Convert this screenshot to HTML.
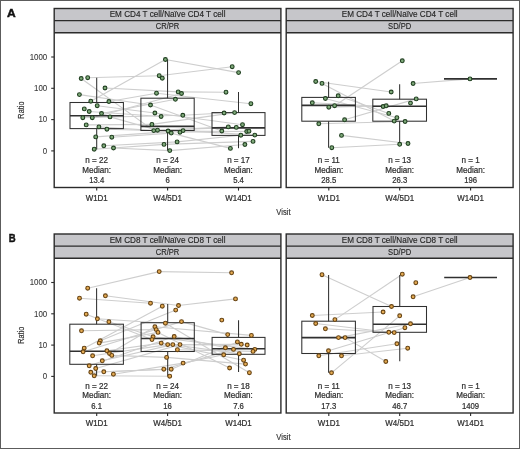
<!DOCTYPE html><html><head><meta charset="utf-8"><style>
html,body{margin:0;padding:0;background:#fff;width:520px;height:449px;overflow:hidden}
svg{display:block;will-change:transform}
text{font-family:"Liberation Sans",sans-serif;fill:#333}
.st{font-size:8.6px;fill:#262626;stroke:#262626;stroke-width:0.15px}
.an{font-size:8.3px;fill:#2e2e2e;stroke:#2e2e2e;stroke-width:0.22px}
.yt{font-size:8.3px;fill:#3a3a3a;stroke:#3a3a3a;stroke-width:0.1px}
.ax{font-size:9.8px;fill:#333;stroke:#333;stroke-width:0.18px}
.lt{font-size:11.6px;font-weight:bold;fill:#111;stroke:#111;stroke-width:0.45px}
</style></head><body>
<svg width="520" height="449" viewBox="0 0 520 449">
<rect x="0" y="0" width="520" height="449" fill="#fff"/>
<text x="7.1" y="16.8" class="lt" textLength="8.7" lengthAdjust="spacingAndGlyphs">A</text>
<g stroke="#2b2b2b" stroke-width="1.1">
<line x1="51.2" y1="57.0" x2="54" y2="57.0"/>
<line x1="51.2" y1="88.3" x2="54" y2="88.3"/>
<line x1="51.2" y1="119.6" x2="54" y2="119.6"/>
<line x1="51.2" y1="150.9" x2="54" y2="150.9"/>
</g>
<text x="47.2" y="59.8" text-anchor="end" class="yt" textLength="17.57" lengthAdjust="spacingAndGlyphs">1000</text>
<text x="47.2" y="91.1" text-anchor="end" class="yt" textLength="13.18" lengthAdjust="spacingAndGlyphs">100</text>
<text x="47.2" y="122.39999999999999" text-anchor="end" class="yt" textLength="8.79" lengthAdjust="spacingAndGlyphs">10</text>
<text x="47.2" y="153.70000000000002" text-anchor="end" class="yt" textLength="4.39" lengthAdjust="spacingAndGlyphs">0</text>
<text transform="translate(24.2 110.1) rotate(-90) scale(0.75 1)" text-anchor="middle" class="ax">Ratio</text>
<text transform="translate(283.5 214.6) scale(0.78 1)" text-anchor="middle" class="ax">Visit</text>
<rect x="54.2" y="8.5" width="226.7" height="24.2" fill="#c6c6ca" stroke="none"/>
<g stroke="#cecece" stroke-width="1.1">
<line x1="81.2" y1="78.5" x2="153.75" y2="130.6"/>
<line x1="87.7" y1="77.7" x2="159.2" y2="75.7"/>
<line x1="105" y1="88" x2="178.2" y2="91.9"/>
<line x1="79.4" y1="94.6" x2="150.5" y2="105"/>
<line x1="90.8" y1="101.2" x2="165.4" y2="59.5"/>
<line x1="108.9" y1="101.5" x2="156.5" y2="93.2"/>
<line x1="97.2" y1="105.7" x2="154.9" y2="113"/>
<line x1="89.2" y1="111.5" x2="161.1" y2="116.5"/>
<line x1="101.5" y1="113.5" x2="175.4" y2="99.3"/>
<line x1="82.8" y1="117.7" x2="182.8" y2="115.3"/>
<line x1="92.3" y1="117.7" x2="181.5" y2="93.5"/>
<line x1="110" y1="116.9" x2="157.5" y2="130.2"/>
<line x1="86.2" y1="124.9" x2="151.9" y2="124.4"/>
<line x1="98.9" y1="126.9" x2="180" y2="132.25"/>
<line x1="106.9" y1="129.2" x2="168.1" y2="131"/>
<line x1="95.7" y1="136.9" x2="183.1" y2="130.6"/>
<line x1="111.8" y1="137.2" x2="171.25" y2="133.1"/>
<line x1="103.8" y1="145.8" x2="177.1" y2="141.9"/>
<line x1="113.5" y1="148" x2="169.75" y2="150.6"/>
<line x1="94.2" y1="149.2" x2="164" y2="144.4"/>
<line x1="165.4" y1="59.5" x2="238.6" y2="72.6"/>
<line x1="159.2" y1="75.7" x2="232.2" y2="66.7"/>
<line x1="156.5" y1="93.2" x2="250.9" y2="103.7"/>
<line x1="178.2" y1="91.9" x2="226" y2="92.2"/>
<line x1="182.8" y1="115.3" x2="224.1" y2="113"/>
<line x1="151.9" y1="124.4" x2="234.6" y2="112.6"/>
<line x1="153.75" y1="130.6" x2="228.3" y2="126.9"/>
<line x1="157.5" y1="130.2" x2="236.3" y2="127.4"/>
<line x1="154.9" y1="113" x2="242.5" y2="124.7"/>
<line x1="150.5" y1="105" x2="221.8" y2="131"/>
<line x1="168.1" y1="131" x2="246.7" y2="131.5"/>
<line x1="180" y1="132.25" x2="249" y2="131.2"/>
<line x1="177.1" y1="141.9" x2="240.8" y2="135.2"/>
<line x1="183.1" y1="130.6" x2="254.8" y2="135.1"/>
<line x1="164" y1="144.4" x2="253" y2="141.4"/>
<line x1="169.75" y1="150.6" x2="244.9" y2="144.5"/>
<line x1="171.25" y1="133.1" x2="230.4" y2="148.4"/>
</g>
<g stroke="#303030" stroke-width="1.05" fill="none">
<line x1="96.7" y1="77.7" x2="96.7" y2="102.5"/>
<line x1="96.7" y1="128.6" x2="96.7" y2="149.2"/>
<rect x="70" y="102.5" width="53.40" height="26.10" fill="none"/>
<line x1="70" y1="115.8" x2="123.4" y2="115.8" stroke-width="1.6"/>
<line x1="167.55" y1="59.5" x2="167.55" y2="98.2"/>
<line x1="167.55" y1="130.5" x2="167.55" y2="150.6"/>
<rect x="140.9" y="98.2" width="53.30" height="32.30" fill="none"/>
<line x1="140.9" y1="126.4" x2="194.2" y2="126.4" stroke-width="1.6"/>
<line x1="238.5" y1="92.0" x2="238.5" y2="112.6"/>
<line x1="238.5" y1="135.4" x2="238.5" y2="148.2"/>
<rect x="212" y="112.6" width="53.00" height="22.80" fill="none"/>
<line x1="212" y1="127.9" x2="265" y2="127.9" stroke-width="1.6"/>
</g>
<g stroke-width="1.1">
<circle cx="81.2" cy="78.5" r="1.9" fill="#80ab7b" stroke="#203f20"/>
<circle cx="87.7" cy="77.7" r="1.9" fill="#80ab7b" stroke="#203f20"/>
<circle cx="105" cy="88" r="1.9" fill="#80ab7b" stroke="#203f20"/>
<circle cx="79.4" cy="94.6" r="1.9" fill="#80ab7b" stroke="#203f20"/>
<circle cx="90.8" cy="101.2" r="1.9" fill="#80ab7b" stroke="#203f20"/>
<circle cx="108.9" cy="101.5" r="1.9" fill="#80ab7b" stroke="#203f20"/>
<circle cx="97.2" cy="105.7" r="1.9" fill="#80ab7b" stroke="#203f20"/>
<circle cx="84.3" cy="108.9" r="1.9" fill="#80ab7b" stroke="#203f20"/>
<circle cx="89.2" cy="111.5" r="1.9" fill="#80ab7b" stroke="#203f20"/>
<circle cx="101.5" cy="113.5" r="1.9" fill="#80ab7b" stroke="#203f20"/>
<circle cx="82.8" cy="117.7" r="1.9" fill="#80ab7b" stroke="#203f20"/>
<circle cx="92.3" cy="117.7" r="1.9" fill="#80ab7b" stroke="#203f20"/>
<circle cx="110" cy="116.9" r="1.9" fill="#80ab7b" stroke="#203f20"/>
<circle cx="86.2" cy="124.9" r="1.9" fill="#80ab7b" stroke="#203f20"/>
<circle cx="98.9" cy="126.9" r="1.9" fill="#80ab7b" stroke="#203f20"/>
<circle cx="106.9" cy="129.2" r="1.9" fill="#80ab7b" stroke="#203f20"/>
<circle cx="95.7" cy="136.9" r="1.9" fill="#80ab7b" stroke="#203f20"/>
<circle cx="111.8" cy="137.2" r="1.9" fill="#80ab7b" stroke="#203f20"/>
<circle cx="103.8" cy="145.8" r="1.9" fill="#80ab7b" stroke="#203f20"/>
<circle cx="113.5" cy="148" r="1.9" fill="#80ab7b" stroke="#203f20"/>
<circle cx="94.2" cy="149.2" r="1.9" fill="#80ab7b" stroke="#203f20"/>
<circle cx="165.4" cy="59.5" r="1.9" fill="#80ab7b" stroke="#203f20"/>
<circle cx="159.2" cy="75.7" r="1.9" fill="#80ab7b" stroke="#203f20"/>
<circle cx="162.3" cy="78.2" r="1.9" fill="#80ab7b" stroke="#203f20"/>
<circle cx="156.5" cy="93.2" r="1.9" fill="#80ab7b" stroke="#203f20"/>
<circle cx="178.2" cy="91.9" r="1.9" fill="#80ab7b" stroke="#203f20"/>
<circle cx="181.5" cy="93.5" r="1.9" fill="#80ab7b" stroke="#203f20"/>
<circle cx="175.4" cy="99.3" r="1.9" fill="#80ab7b" stroke="#203f20"/>
<circle cx="150.5" cy="105" r="1.9" fill="#80ab7b" stroke="#203f20"/>
<circle cx="154.9" cy="113" r="1.9" fill="#80ab7b" stroke="#203f20"/>
<circle cx="161.1" cy="116.5" r="1.9" fill="#80ab7b" stroke="#203f20"/>
<circle cx="182.8" cy="115.3" r="1.9" fill="#80ab7b" stroke="#203f20"/>
<circle cx="151.9" cy="124.4" r="1.9" fill="#80ab7b" stroke="#203f20"/>
<circle cx="153.75" cy="130.6" r="1.9" fill="#80ab7b" stroke="#203f20"/>
<circle cx="157.5" cy="130.2" r="1.9" fill="#80ab7b" stroke="#203f20"/>
<circle cx="168.1" cy="131" r="1.9" fill="#80ab7b" stroke="#203f20"/>
<circle cx="171.25" cy="133.1" r="1.9" fill="#80ab7b" stroke="#203f20"/>
<circle cx="180" cy="132.25" r="1.9" fill="#80ab7b" stroke="#203f20"/>
<circle cx="183.1" cy="130.6" r="1.9" fill="#80ab7b" stroke="#203f20"/>
<circle cx="164" cy="144.4" r="1.9" fill="#80ab7b" stroke="#203f20"/>
<circle cx="177.1" cy="141.9" r="1.9" fill="#80ab7b" stroke="#203f20"/>
<circle cx="169.75" cy="150.6" r="1.9" fill="#80ab7b" stroke="#203f20"/>
<circle cx="232.2" cy="66.7" r="1.9" fill="#80ab7b" stroke="#203f20"/>
<circle cx="238.6" cy="72.6" r="1.9" fill="#80ab7b" stroke="#203f20"/>
<circle cx="226" cy="92.2" r="1.9" fill="#80ab7b" stroke="#203f20"/>
<circle cx="250.9" cy="103.7" r="1.9" fill="#80ab7b" stroke="#203f20"/>
<circle cx="224.1" cy="113" r="1.9" fill="#80ab7b" stroke="#203f20"/>
<circle cx="234.6" cy="112.6" r="1.9" fill="#80ab7b" stroke="#203f20"/>
<circle cx="228.3" cy="126.9" r="1.9" fill="#80ab7b" stroke="#203f20"/>
<circle cx="236.3" cy="127.4" r="1.9" fill="#80ab7b" stroke="#203f20"/>
<circle cx="242.5" cy="124.7" r="1.9" fill="#80ab7b" stroke="#203f20"/>
<circle cx="221.8" cy="131" r="1.9" fill="#80ab7b" stroke="#203f20"/>
<circle cx="246.7" cy="131.5" r="1.9" fill="#80ab7b" stroke="#203f20"/>
<circle cx="249" cy="131.2" r="1.9" fill="#80ab7b" stroke="#203f20"/>
<circle cx="240.8" cy="135.2" r="1.9" fill="#80ab7b" stroke="#203f20"/>
<circle cx="254.8" cy="135.1" r="1.9" fill="#80ab7b" stroke="#203f20"/>
<circle cx="253" cy="141.4" r="1.9" fill="#80ab7b" stroke="#203f20"/>
<circle cx="244.9" cy="144.5" r="1.9" fill="#80ab7b" stroke="#203f20"/>
<circle cx="230.4" cy="148.4" r="1.9" fill="#80ab7b" stroke="#203f20"/>
</g>
<g stroke="#2b2b2b" stroke-width="1.4" fill="none">
<rect x="54.2" y="8.5" width="226.7" height="179.0"/>
<line x1="54.2" y1="20.6" x2="280.9" y2="20.6"/>
<line x1="54.2" y1="32.7" x2="280.9" y2="32.7"/>
<line x1="96.7" y1="187.5" x2="96.7" y2="190.6" stroke-width="1.1"/>
<line x1="167.6" y1="187.5" x2="167.6" y2="190.6" stroke-width="1.1"/>
<line x1="238.5" y1="187.5" x2="238.5" y2="190.6" stroke-width="1.1"/>
</g>
<text x="167.54999999999998" y="17.4" text-anchor="middle" class="st" textLength="115.80" lengthAdjust="spacingAndGlyphs">EM CD4 T cell/Naïve CD4 T cell</text>
<text x="167.54999999999998" y="29.3" text-anchor="middle" class="st" textLength="23.55" lengthAdjust="spacingAndGlyphs">CR/PR</text>
<text x="96.7" y="163.1" text-anchor="middle" class="an" textLength="22.72" lengthAdjust="spacingAndGlyphs">n = 22</text>
<text x="96.7" y="172.8" text-anchor="middle" class="an" textLength="28.79" lengthAdjust="spacingAndGlyphs">Median:</text>
<text x="96.7" y="183.1" text-anchor="middle" class="an" textLength="15.02" lengthAdjust="spacingAndGlyphs">13.4</text>
<text x="167.6" y="163.1" text-anchor="middle" class="an" textLength="22.72" lengthAdjust="spacingAndGlyphs">n = 24</text>
<text x="167.6" y="172.8" text-anchor="middle" class="an" textLength="28.79" lengthAdjust="spacingAndGlyphs">Median:</text>
<text x="167.6" y="183.1" text-anchor="middle" class="an" textLength="4.29" lengthAdjust="spacingAndGlyphs">6</text>
<text x="238.5" y="163.1" text-anchor="middle" class="an" textLength="22.72" lengthAdjust="spacingAndGlyphs">n = 17</text>
<text x="238.5" y="172.8" text-anchor="middle" class="an" textLength="28.79" lengthAdjust="spacingAndGlyphs">Median:</text>
<text x="238.5" y="183.1" text-anchor="middle" class="an" textLength="10.73" lengthAdjust="spacingAndGlyphs">5.4</text>
<text x="96.7" y="200.9" text-anchor="middle" class="an" textLength="22.14" lengthAdjust="spacingAndGlyphs">W1D1</text>
<text x="167.6" y="200.9" text-anchor="middle" class="an" textLength="28.78" lengthAdjust="spacingAndGlyphs">W4/5D1</text>
<text x="238.5" y="200.9" text-anchor="middle" class="an" textLength="26.57" lengthAdjust="spacingAndGlyphs">W14D1</text>
<rect x="286.2" y="8.5" width="226.90000000000003" height="24.2" fill="#c6c6ca" stroke="none"/>
<g stroke="#cecece" stroke-width="1.1">
<line x1="315.7" y1="81.5" x2="391.2" y2="92"/>
<line x1="322" y1="83.4" x2="394.2" y2="121.1"/>
<line x1="325.4" y1="98.5" x2="396.9" y2="117.7"/>
<line x1="338.2" y1="95.8" x2="388.8" y2="113.4"/>
<line x1="312.3" y1="102.8" x2="383.1" y2="106.5"/>
<line x1="328.8" y1="107.2" x2="386.2" y2="105.8"/>
<line x1="334.6" y1="105.7" x2="402.3" y2="60.8"/>
<line x1="344.6" y1="119.8" x2="416.2" y2="98.9"/>
<line x1="318.8" y1="123.8" x2="405.1" y2="121.5"/>
<line x1="341.5" y1="135.4" x2="408" y2="143.5"/>
<line x1="331.8" y1="147.7" x2="399.7" y2="144.3"/>
<line x1="413.1" y1="83.5" x2="470" y2="78.9"/>
</g>
<g stroke="#303030" stroke-width="1.05" fill="none">
<line x1="328.6" y1="81.8" x2="328.6" y2="97.4"/>
<line x1="328.6" y1="121.2" x2="328.6" y2="147.7"/>
<rect x="301.8" y="97.4" width="53.60" height="23.80" fill="none"/>
<line x1="301.8" y1="105.4" x2="355.4" y2="105.4" stroke-width="1.6"/>
<line x1="399.65" y1="84.2" x2="399.65" y2="99.2"/>
<line x1="399.65" y1="121.2" x2="399.65" y2="144.3"/>
<rect x="372.8" y="99.2" width="53.70" height="22.00" fill="none"/>
<line x1="372.8" y1="106.2" x2="426.5" y2="106.2" stroke-width="1.6"/>
<line x1="444" y1="78.9" x2="497" y2="78.9" stroke-width="1.6"/>
</g>
<g stroke-width="1.1">
<circle cx="315.7" cy="81.5" r="1.9" fill="#80ab7b" stroke="#203f20"/>
<circle cx="322" cy="83.4" r="1.9" fill="#80ab7b" stroke="#203f20"/>
<circle cx="325.4" cy="98.5" r="1.9" fill="#80ab7b" stroke="#203f20"/>
<circle cx="338.2" cy="95.8" r="1.9" fill="#80ab7b" stroke="#203f20"/>
<circle cx="312.3" cy="102.8" r="1.9" fill="#80ab7b" stroke="#203f20"/>
<circle cx="328.8" cy="107.2" r="1.9" fill="#80ab7b" stroke="#203f20"/>
<circle cx="334.6" cy="105.7" r="1.9" fill="#80ab7b" stroke="#203f20"/>
<circle cx="344.6" cy="119.8" r="1.9" fill="#80ab7b" stroke="#203f20"/>
<circle cx="318.8" cy="123.8" r="1.9" fill="#80ab7b" stroke="#203f20"/>
<circle cx="341.5" cy="135.4" r="1.9" fill="#80ab7b" stroke="#203f20"/>
<circle cx="331.8" cy="147.7" r="1.9" fill="#80ab7b" stroke="#203f20"/>
<circle cx="402.3" cy="60.8" r="1.9" fill="#80ab7b" stroke="#203f20"/>
<circle cx="413.1" cy="83.5" r="1.9" fill="#80ab7b" stroke="#203f20"/>
<circle cx="391.2" cy="92" r="1.9" fill="#80ab7b" stroke="#203f20"/>
<circle cx="416.2" cy="98.9" r="1.9" fill="#80ab7b" stroke="#203f20"/>
<circle cx="410.5" cy="103.1" r="1.9" fill="#80ab7b" stroke="#203f20"/>
<circle cx="383.1" cy="106.5" r="1.9" fill="#80ab7b" stroke="#203f20"/>
<circle cx="386.2" cy="105.8" r="1.9" fill="#80ab7b" stroke="#203f20"/>
<circle cx="388.8" cy="113.4" r="1.9" fill="#80ab7b" stroke="#203f20"/>
<circle cx="396.9" cy="117.7" r="1.9" fill="#80ab7b" stroke="#203f20"/>
<circle cx="394.2" cy="121.1" r="1.9" fill="#80ab7b" stroke="#203f20"/>
<circle cx="405.1" cy="121.5" r="1.9" fill="#80ab7b" stroke="#203f20"/>
<circle cx="399.7" cy="144.3" r="1.9" fill="#80ab7b" stroke="#203f20"/>
<circle cx="408" cy="143.5" r="1.9" fill="#80ab7b" stroke="#203f20"/>
<circle cx="470" cy="78.9" r="1.9" fill="#80ab7b" stroke="#203f20"/>
</g>
<g stroke="#2b2b2b" stroke-width="1.4" fill="none">
<rect x="286.2" y="8.5" width="226.90000000000003" height="179.0"/>
<line x1="286.2" y1="20.6" x2="513.1" y2="20.6"/>
<line x1="286.2" y1="32.7" x2="513.1" y2="32.7"/>
<line x1="328.8" y1="187.5" x2="328.8" y2="190.6" stroke-width="1.1"/>
<line x1="399.7" y1="187.5" x2="399.7" y2="190.6" stroke-width="1.1"/>
<line x1="470.6" y1="187.5" x2="470.6" y2="190.6" stroke-width="1.1"/>
</g>
<text x="399.65" y="17.4" text-anchor="middle" class="st" textLength="115.80" lengthAdjust="spacingAndGlyphs">EM CD4 T cell/Naïve CD4 T cell</text>
<text x="399.65" y="29.3" text-anchor="middle" class="st" textLength="23.13" lengthAdjust="spacingAndGlyphs">SD/PD</text>
<text x="328.8" y="163.1" text-anchor="middle" class="an" textLength="22.12" lengthAdjust="spacingAndGlyphs">n = 11</text>
<text x="328.8" y="172.8" text-anchor="middle" class="an" textLength="28.79" lengthAdjust="spacingAndGlyphs">Median:</text>
<text x="328.8" y="183.1" text-anchor="middle" class="an" textLength="15.02" lengthAdjust="spacingAndGlyphs">28.5</text>
<text x="399.7" y="163.1" text-anchor="middle" class="an" textLength="22.72" lengthAdjust="spacingAndGlyphs">n = 13</text>
<text x="399.7" y="172.8" text-anchor="middle" class="an" textLength="28.79" lengthAdjust="spacingAndGlyphs">Median:</text>
<text x="399.7" y="183.1" text-anchor="middle" class="an" textLength="15.02" lengthAdjust="spacingAndGlyphs">26.3</text>
<text x="470.6" y="163.1" text-anchor="middle" class="an" textLength="18.22" lengthAdjust="spacingAndGlyphs">n = 1</text>
<text x="470.6" y="172.8" text-anchor="middle" class="an" textLength="28.79" lengthAdjust="spacingAndGlyphs">Median:</text>
<text x="470.6" y="183.1" text-anchor="middle" class="an" textLength="12.88" lengthAdjust="spacingAndGlyphs">196</text>
<text x="328.8" y="200.9" text-anchor="middle" class="an" textLength="22.14" lengthAdjust="spacingAndGlyphs">W1D1</text>
<text x="399.7" y="200.9" text-anchor="middle" class="an" textLength="28.78" lengthAdjust="spacingAndGlyphs">W4/5D1</text>
<text x="470.6" y="200.9" text-anchor="middle" class="an" textLength="26.57" lengthAdjust="spacingAndGlyphs">W14D1</text>
<text x="8.7" y="242.3" class="lt" textLength="6.9" lengthAdjust="spacingAndGlyphs">B</text>
<g stroke="#2b2b2b" stroke-width="1.1">
<line x1="51.2" y1="282.5" x2="54" y2="282.5"/>
<line x1="51.2" y1="313.8" x2="54" y2="313.8"/>
<line x1="51.2" y1="345.1" x2="54" y2="345.1"/>
<line x1="51.2" y1="376.4" x2="54" y2="376.4"/>
</g>
<text x="47.2" y="285.3" text-anchor="end" class="yt" textLength="17.57" lengthAdjust="spacingAndGlyphs">1000</text>
<text x="47.2" y="316.6" text-anchor="end" class="yt" textLength="13.18" lengthAdjust="spacingAndGlyphs">100</text>
<text x="47.2" y="347.90000000000003" text-anchor="end" class="yt" textLength="8.79" lengthAdjust="spacingAndGlyphs">10</text>
<text x="47.2" y="379.2" text-anchor="end" class="yt" textLength="4.39" lengthAdjust="spacingAndGlyphs">0</text>
<text transform="translate(24.2 335.20000000000005) rotate(-90) scale(0.75 1)" text-anchor="middle" class="ax">Ratio</text>
<text transform="translate(283.5 440.1) scale(0.78 1)" text-anchor="middle" class="ax">Visit</text>
<rect x="54.2" y="234.0" width="226.7" height="24.2" fill="#c6c6ca" stroke="none"/>
<g stroke="#cecece" stroke-width="1.1">
<line x1="87.7" y1="288.2" x2="159.2" y2="271.6"/>
<line x1="79.5" y1="298.2" x2="150.5" y2="303.2"/>
<line x1="105.4" y1="295.8" x2="178.5" y2="305.5"/>
<line x1="86.2" y1="314.2" x2="152" y2="339.6"/>
<line x1="97.4" y1="318.8" x2="165.4" y2="323.2"/>
<line x1="108.9" y1="321.8" x2="153.1" y2="336.8"/>
<line x1="81.5" y1="330.8" x2="156.2" y2="329.6"/>
<line x1="100.3" y1="340.8" x2="175.7" y2="310.1"/>
<line x1="99.2" y1="343.1" x2="158" y2="332.4"/>
<line x1="84.2" y1="348.2" x2="162.3" y2="306.2"/>
<line x1="83.1" y1="351.8" x2="181.5" y2="321.6"/>
<line x1="106.9" y1="350.8" x2="161.2" y2="343.1"/>
<line x1="109.5" y1="353.5" x2="154.9" y2="326.8"/>
<line x1="111.8" y1="355.4" x2="166.6" y2="357.4"/>
<line x1="92.6" y1="355.8" x2="167.7" y2="344.6"/>
<line x1="102.3" y1="360.8" x2="172.8" y2="344.6"/>
<line x1="89.2" y1="365.8" x2="174.2" y2="336.5"/>
<line x1="95.7" y1="368.5" x2="180" y2="344.6"/>
<line x1="90.8" y1="372.3" x2="171.2" y2="369.2"/>
<line x1="103.8" y1="371.8" x2="163.8" y2="369.2"/>
<line x1="94.2" y1="375.8" x2="169.7" y2="376.2"/>
<line x1="113.4" y1="374.2" x2="183.1" y2="363.1"/>
<line x1="159.2" y1="271.6" x2="231.6" y2="272.8"/>
<line x1="178.5" y1="305.5" x2="235.5" y2="298.9"/>
<line x1="181.5" y1="321.6" x2="227.7" y2="334.6"/>
<line x1="165.4" y1="323.2" x2="249.4" y2="372.7"/>
<line x1="183.1" y1="363.1" x2="223.7" y2="354.8"/>
<line x1="174.2" y1="336.5" x2="225.4" y2="347.8"/>
<line x1="158" y1="332.4" x2="229.6" y2="368"/>
<line x1="154.9" y1="326.8" x2="251.4" y2="335.4"/>
<line x1="161.2" y1="343.1" x2="239.3" y2="353.7"/>
<line x1="167.7" y1="344.6" x2="243.6" y2="360.2"/>
<line x1="172.8" y1="344.6" x2="247.2" y2="345"/>
<line x1="177.4" y1="349.7" x2="253" y2="351.4"/>
<line x1="166.6" y1="357.4" x2="245.5" y2="364.1"/>
<line x1="163.8" y1="369.2" x2="233.5" y2="349.4"/>
<line x1="171.2" y1="369.2" x2="237.4" y2="341.9"/>
<line x1="153.1" y1="336.8" x2="254.8" y2="349.4"/>
<line x1="180" y1="344.6" x2="241.3" y2="344.3"/>
</g>
<g stroke="#303030" stroke-width="1.05" fill="none">
<line x1="96.6" y1="288.2" x2="96.6" y2="324.2"/>
<line x1="96.6" y1="364.3" x2="96.6" y2="375.8"/>
<rect x="69.8" y="324.2" width="53.60" height="40.10" fill="none"/>
<line x1="69.8" y1="351.2" x2="123.4" y2="351.2" stroke-width="1.6"/>
<line x1="167.7" y1="303.9" x2="167.7" y2="322.7"/>
<line x1="167.7" y1="351.5" x2="167.7" y2="376.2"/>
<rect x="141.1" y="322.7" width="53.20" height="28.80" fill="none"/>
<line x1="141.1" y1="338.5" x2="194.3" y2="338.5" stroke-width="1.6"/>
<line x1="238.55" y1="320.3" x2="238.55" y2="337.4"/>
<line x1="238.55" y1="354.3" x2="238.55" y2="372.0"/>
<rect x="212.1" y="337.4" width="52.90" height="16.90" fill="none"/>
<line x1="212.1" y1="348.8" x2="265" y2="348.8" stroke-width="1.6"/>
</g>
<g stroke-width="1.1">
<circle cx="87.7" cy="288.2" r="1.9" fill="#e4aa52" stroke="#654212"/>
<circle cx="79.5" cy="298.2" r="1.9" fill="#e4aa52" stroke="#654212"/>
<circle cx="105.4" cy="295.8" r="1.9" fill="#e4aa52" stroke="#654212"/>
<circle cx="86.2" cy="314.2" r="1.9" fill="#e4aa52" stroke="#654212"/>
<circle cx="97.4" cy="318.8" r="1.9" fill="#e4aa52" stroke="#654212"/>
<circle cx="108.9" cy="321.8" r="1.9" fill="#e4aa52" stroke="#654212"/>
<circle cx="81.5" cy="330.8" r="1.9" fill="#e4aa52" stroke="#654212"/>
<circle cx="100.3" cy="340.8" r="1.9" fill="#e4aa52" stroke="#654212"/>
<circle cx="99.2" cy="343.1" r="1.9" fill="#e4aa52" stroke="#654212"/>
<circle cx="84.2" cy="348.2" r="1.9" fill="#e4aa52" stroke="#654212"/>
<circle cx="83.1" cy="351.8" r="1.9" fill="#e4aa52" stroke="#654212"/>
<circle cx="106.9" cy="350.8" r="1.9" fill="#e4aa52" stroke="#654212"/>
<circle cx="109.5" cy="353.5" r="1.9" fill="#e4aa52" stroke="#654212"/>
<circle cx="111.8" cy="355.4" r="1.9" fill="#e4aa52" stroke="#654212"/>
<circle cx="92.6" cy="355.8" r="1.9" fill="#e4aa52" stroke="#654212"/>
<circle cx="102.3" cy="360.8" r="1.9" fill="#e4aa52" stroke="#654212"/>
<circle cx="89.2" cy="365.8" r="1.9" fill="#e4aa52" stroke="#654212"/>
<circle cx="95.7" cy="368.5" r="1.9" fill="#e4aa52" stroke="#654212"/>
<circle cx="90.8" cy="372.3" r="1.9" fill="#e4aa52" stroke="#654212"/>
<circle cx="103.8" cy="371.8" r="1.9" fill="#e4aa52" stroke="#654212"/>
<circle cx="94.2" cy="375.8" r="1.9" fill="#e4aa52" stroke="#654212"/>
<circle cx="113.4" cy="374.2" r="1.9" fill="#e4aa52" stroke="#654212"/>
<circle cx="159.2" cy="271.6" r="1.9" fill="#e4aa52" stroke="#654212"/>
<circle cx="150.5" cy="303.2" r="1.9" fill="#e4aa52" stroke="#654212"/>
<circle cx="162.3" cy="306.2" r="1.9" fill="#e4aa52" stroke="#654212"/>
<circle cx="178.5" cy="305.5" r="1.9" fill="#e4aa52" stroke="#654212"/>
<circle cx="175.7" cy="310.1" r="1.9" fill="#e4aa52" stroke="#654212"/>
<circle cx="165.4" cy="323.2" r="1.9" fill="#e4aa52" stroke="#654212"/>
<circle cx="181.5" cy="321.6" r="1.9" fill="#e4aa52" stroke="#654212"/>
<circle cx="154.9" cy="326.8" r="1.9" fill="#e4aa52" stroke="#654212"/>
<circle cx="156.2" cy="329.6" r="1.9" fill="#e4aa52" stroke="#654212"/>
<circle cx="158" cy="332.4" r="1.9" fill="#e4aa52" stroke="#654212"/>
<circle cx="153.1" cy="336.8" r="1.9" fill="#e4aa52" stroke="#654212"/>
<circle cx="152" cy="339.6" r="1.9" fill="#e4aa52" stroke="#654212"/>
<circle cx="174.2" cy="336.5" r="1.9" fill="#e4aa52" stroke="#654212"/>
<circle cx="161.2" cy="343.1" r="1.9" fill="#e4aa52" stroke="#654212"/>
<circle cx="167.7" cy="344.6" r="1.9" fill="#e4aa52" stroke="#654212"/>
<circle cx="172.8" cy="344.6" r="1.9" fill="#e4aa52" stroke="#654212"/>
<circle cx="180" cy="344.6" r="1.9" fill="#e4aa52" stroke="#654212"/>
<circle cx="177.4" cy="349.7" r="1.9" fill="#e4aa52" stroke="#654212"/>
<circle cx="166.6" cy="357.4" r="1.9" fill="#e4aa52" stroke="#654212"/>
<circle cx="183.1" cy="363.1" r="1.9" fill="#e4aa52" stroke="#654212"/>
<circle cx="163.8" cy="369.2" r="1.9" fill="#e4aa52" stroke="#654212"/>
<circle cx="171.2" cy="369.2" r="1.9" fill="#e4aa52" stroke="#654212"/>
<circle cx="169.7" cy="376.2" r="1.9" fill="#e4aa52" stroke="#654212"/>
<circle cx="231.6" cy="272.8" r="1.9" fill="#e4aa52" stroke="#654212"/>
<circle cx="235.5" cy="298.9" r="1.9" fill="#e4aa52" stroke="#654212"/>
<circle cx="221.8" cy="320.1" r="1.9" fill="#e4aa52" stroke="#654212"/>
<circle cx="227.7" cy="334.6" r="1.9" fill="#e4aa52" stroke="#654212"/>
<circle cx="251.4" cy="335.4" r="1.9" fill="#e4aa52" stroke="#654212"/>
<circle cx="237.4" cy="341.9" r="1.9" fill="#e4aa52" stroke="#654212"/>
<circle cx="241.3" cy="344.3" r="1.9" fill="#e4aa52" stroke="#654212"/>
<circle cx="247.2" cy="345" r="1.9" fill="#e4aa52" stroke="#654212"/>
<circle cx="225.4" cy="347.8" r="1.9" fill="#e4aa52" stroke="#654212"/>
<circle cx="233.5" cy="349.4" r="1.9" fill="#e4aa52" stroke="#654212"/>
<circle cx="254.8" cy="349.4" r="1.9" fill="#e4aa52" stroke="#654212"/>
<circle cx="253" cy="351.4" r="1.9" fill="#e4aa52" stroke="#654212"/>
<circle cx="223.7" cy="354.8" r="1.9" fill="#e4aa52" stroke="#654212"/>
<circle cx="239.3" cy="353.7" r="1.9" fill="#e4aa52" stroke="#654212"/>
<circle cx="243.6" cy="360.2" r="1.9" fill="#e4aa52" stroke="#654212"/>
<circle cx="245.5" cy="364.1" r="1.9" fill="#e4aa52" stroke="#654212"/>
<circle cx="229.6" cy="368" r="1.9" fill="#e4aa52" stroke="#654212"/>
<circle cx="249.4" cy="372.7" r="1.9" fill="#e4aa52" stroke="#654212"/>
</g>
<g stroke="#2b2b2b" stroke-width="1.4" fill="none">
<rect x="54.2" y="234.0" width="226.7" height="179.0"/>
<line x1="54.2" y1="246.1" x2="280.9" y2="246.1"/>
<line x1="54.2" y1="258.2" x2="280.9" y2="258.2"/>
<line x1="96.7" y1="413.0" x2="96.7" y2="416.1" stroke-width="1.1"/>
<line x1="167.6" y1="413.0" x2="167.6" y2="416.1" stroke-width="1.1"/>
<line x1="238.5" y1="413.0" x2="238.5" y2="416.1" stroke-width="1.1"/>
</g>
<text x="167.54999999999998" y="242.9" text-anchor="middle" class="st" textLength="115.80" lengthAdjust="spacingAndGlyphs">EM CD8 T cell/Naïve CD8 T cell</text>
<text x="167.54999999999998" y="254.8" text-anchor="middle" class="st" textLength="23.55" lengthAdjust="spacingAndGlyphs">CR/PR</text>
<text x="96.7" y="388.6" text-anchor="middle" class="an" textLength="22.72" lengthAdjust="spacingAndGlyphs">n = 22</text>
<text x="96.7" y="398.3" text-anchor="middle" class="an" textLength="28.79" lengthAdjust="spacingAndGlyphs">Median:</text>
<text x="96.7" y="408.6" text-anchor="middle" class="an" textLength="10.73" lengthAdjust="spacingAndGlyphs">6.1</text>
<text x="167.6" y="388.6" text-anchor="middle" class="an" textLength="22.72" lengthAdjust="spacingAndGlyphs">n = 24</text>
<text x="167.6" y="398.3" text-anchor="middle" class="an" textLength="28.79" lengthAdjust="spacingAndGlyphs">Median:</text>
<text x="167.6" y="408.6" text-anchor="middle" class="an" textLength="8.58" lengthAdjust="spacingAndGlyphs">16</text>
<text x="238.5" y="388.6" text-anchor="middle" class="an" textLength="22.72" lengthAdjust="spacingAndGlyphs">n = 18</text>
<text x="238.5" y="398.3" text-anchor="middle" class="an" textLength="28.79" lengthAdjust="spacingAndGlyphs">Median:</text>
<text x="238.5" y="408.6" text-anchor="middle" class="an" textLength="10.73" lengthAdjust="spacingAndGlyphs">7.6</text>
<text x="96.7" y="426.4" text-anchor="middle" class="an" textLength="22.14" lengthAdjust="spacingAndGlyphs">W1D1</text>
<text x="167.6" y="426.4" text-anchor="middle" class="an" textLength="28.78" lengthAdjust="spacingAndGlyphs">W4/5D1</text>
<text x="238.5" y="426.4" text-anchor="middle" class="an" textLength="26.57" lengthAdjust="spacingAndGlyphs">W14D1</text>
<rect x="286.2" y="234.0" width="226.90000000000003" height="24.2" fill="#c6c6ca" stroke="none"/>
<g stroke="#cecece" stroke-width="1.1">
<line x1="322" y1="274.7" x2="391.5" y2="306.5"/>
<line x1="312.3" y1="315.5" x2="383.1" y2="312"/>
<line x1="334.9" y1="319.6" x2="402.3" y2="274.2"/>
<line x1="315.7" y1="323.5" x2="388.8" y2="332.3"/>
<line x1="325.4" y1="328.8" x2="394.2" y2="332.6"/>
<line x1="338.5" y1="337.6" x2="410.5" y2="323.8"/>
<line x1="345.1" y1="337.6" x2="385.8" y2="361.5"/>
<line x1="328.5" y1="350.8" x2="404.9" y2="327.7"/>
<line x1="318.8" y1="355.8" x2="396.9" y2="343.8"/>
<line x1="341.5" y1="355.8" x2="407.7" y2="348.2"/>
<line x1="331.5" y1="372.8" x2="399.7" y2="315.8"/>
<line x1="413.1" y1="296.8" x2="470" y2="277.5"/>
</g>
<g stroke="#303030" stroke-width="1.05" fill="none">
<line x1="328.6" y1="275" x2="328.6" y2="321.2"/>
<line x1="328.6" y1="353.5" x2="328.6" y2="372.8"/>
<rect x="301.8" y="321.2" width="53.60" height="32.30" fill="none"/>
<line x1="301.8" y1="337.6" x2="355.4" y2="337.6" stroke-width="1.6"/>
<line x1="399.75" y1="275" x2="399.75" y2="306.5"/>
<line x1="399.75" y1="332.3" x2="399.75" y2="361.2"/>
<rect x="373" y="306.5" width="53.50" height="25.80" fill="none"/>
<line x1="373" y1="324.2" x2="426.5" y2="324.2" stroke-width="1.6"/>
<line x1="444.2" y1="277.5" x2="497" y2="277.5" stroke-width="1.6"/>
</g>
<g stroke-width="1.1">
<circle cx="322" cy="274.7" r="1.9" fill="#e4aa52" stroke="#654212"/>
<circle cx="312.3" cy="315.5" r="1.9" fill="#e4aa52" stroke="#654212"/>
<circle cx="334.9" cy="319.6" r="1.9" fill="#e4aa52" stroke="#654212"/>
<circle cx="315.7" cy="323.5" r="1.9" fill="#e4aa52" stroke="#654212"/>
<circle cx="325.4" cy="328.8" r="1.9" fill="#e4aa52" stroke="#654212"/>
<circle cx="338.5" cy="337.6" r="1.9" fill="#e4aa52" stroke="#654212"/>
<circle cx="345.1" cy="337.6" r="1.9" fill="#e4aa52" stroke="#654212"/>
<circle cx="328.5" cy="350.8" r="1.9" fill="#e4aa52" stroke="#654212"/>
<circle cx="318.8" cy="355.8" r="1.9" fill="#e4aa52" stroke="#654212"/>
<circle cx="341.5" cy="355.8" r="1.9" fill="#e4aa52" stroke="#654212"/>
<circle cx="331.5" cy="372.8" r="1.9" fill="#e4aa52" stroke="#654212"/>
<circle cx="402.3" cy="274.2" r="1.9" fill="#e4aa52" stroke="#654212"/>
<circle cx="415.8" cy="282.7" r="1.9" fill="#e4aa52" stroke="#654212"/>
<circle cx="413.1" cy="296.8" r="1.9" fill="#e4aa52" stroke="#654212"/>
<circle cx="391.5" cy="306.5" r="1.9" fill="#e4aa52" stroke="#654212"/>
<circle cx="383.1" cy="312" r="1.9" fill="#e4aa52" stroke="#654212"/>
<circle cx="399.7" cy="315.8" r="1.9" fill="#e4aa52" stroke="#654212"/>
<circle cx="410.5" cy="323.8" r="1.9" fill="#e4aa52" stroke="#654212"/>
<circle cx="404.9" cy="327.7" r="1.9" fill="#e4aa52" stroke="#654212"/>
<circle cx="388.8" cy="332.3" r="1.9" fill="#e4aa52" stroke="#654212"/>
<circle cx="394.2" cy="332.6" r="1.9" fill="#e4aa52" stroke="#654212"/>
<circle cx="396.9" cy="343.8" r="1.9" fill="#e4aa52" stroke="#654212"/>
<circle cx="407.7" cy="348.2" r="1.9" fill="#e4aa52" stroke="#654212"/>
<circle cx="385.8" cy="361.5" r="1.9" fill="#e4aa52" stroke="#654212"/>
<circle cx="470" cy="277.5" r="1.9" fill="#e4aa52" stroke="#654212"/>
</g>
<g stroke="#2b2b2b" stroke-width="1.4" fill="none">
<rect x="286.2" y="234.0" width="226.90000000000003" height="179.0"/>
<line x1="286.2" y1="246.1" x2="513.1" y2="246.1"/>
<line x1="286.2" y1="258.2" x2="513.1" y2="258.2"/>
<line x1="328.8" y1="413.0" x2="328.8" y2="416.1" stroke-width="1.1"/>
<line x1="399.7" y1="413.0" x2="399.7" y2="416.1" stroke-width="1.1"/>
<line x1="470.6" y1="413.0" x2="470.6" y2="416.1" stroke-width="1.1"/>
</g>
<text x="399.65" y="242.9" text-anchor="middle" class="st" textLength="115.80" lengthAdjust="spacingAndGlyphs">EM CD8 T cell/Naïve CD8 T cell</text>
<text x="399.65" y="254.8" text-anchor="middle" class="st" textLength="23.13" lengthAdjust="spacingAndGlyphs">SD/PD</text>
<text x="328.8" y="388.6" text-anchor="middle" class="an" textLength="22.12" lengthAdjust="spacingAndGlyphs">n = 11</text>
<text x="328.8" y="398.3" text-anchor="middle" class="an" textLength="28.79" lengthAdjust="spacingAndGlyphs">Median:</text>
<text x="328.8" y="408.6" text-anchor="middle" class="an" textLength="15.02" lengthAdjust="spacingAndGlyphs">17.3</text>
<text x="399.7" y="388.6" text-anchor="middle" class="an" textLength="22.72" lengthAdjust="spacingAndGlyphs">n = 13</text>
<text x="399.7" y="398.3" text-anchor="middle" class="an" textLength="28.79" lengthAdjust="spacingAndGlyphs">Median:</text>
<text x="399.7" y="408.6" text-anchor="middle" class="an" textLength="15.02" lengthAdjust="spacingAndGlyphs">46.7</text>
<text x="470.6" y="388.6" text-anchor="middle" class="an" textLength="18.22" lengthAdjust="spacingAndGlyphs">n = 1</text>
<text x="470.6" y="398.3" text-anchor="middle" class="an" textLength="28.79" lengthAdjust="spacingAndGlyphs">Median:</text>
<text x="470.6" y="408.6" text-anchor="middle" class="an" textLength="17.17" lengthAdjust="spacingAndGlyphs">1409</text>
<text x="328.8" y="426.4" text-anchor="middle" class="an" textLength="22.14" lengthAdjust="spacingAndGlyphs">W1D1</text>
<text x="399.7" y="426.4" text-anchor="middle" class="an" textLength="28.78" lengthAdjust="spacingAndGlyphs">W4/5D1</text>
<text x="470.6" y="426.4" text-anchor="middle" class="an" textLength="26.57" lengthAdjust="spacingAndGlyphs">W14D1</text>
<rect x="0.5" y="0.5" width="519" height="448" fill="none" stroke="#5c5c5c" stroke-width="1"/>
</svg></body></html>
